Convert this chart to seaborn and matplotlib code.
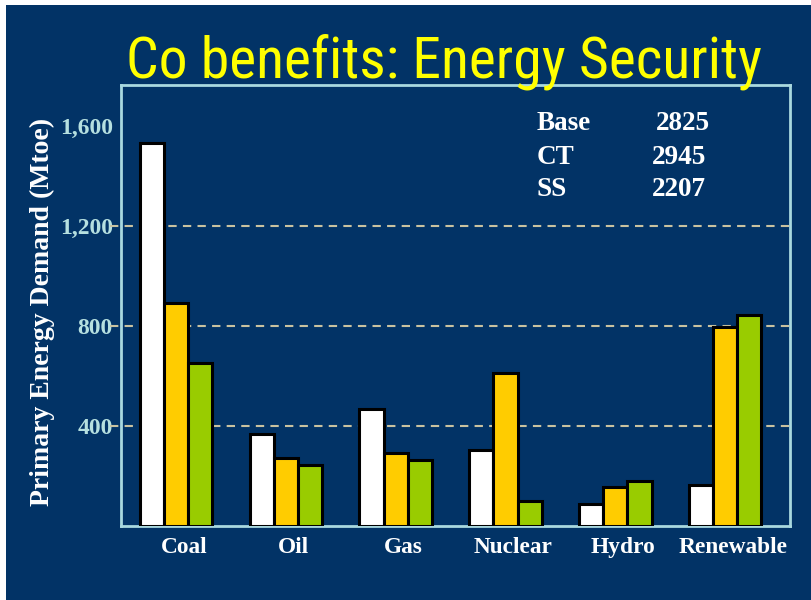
import matplotlib
matplotlib.use("Agg")
import matplotlib.pyplot as plt
import matplotlib.transforms as mtransforms
from matplotlib.patches import Rectangle
import seaborn as sns
import pandas as pd

categories = ["Coal", "Oil", "Gas", "Nuclear", "Hydro", "Renewable"]
scenarios = ["Base", "CT", "SS"]
base_vals = [1532, 368, 468, 304, 88, 164]
ct_vals = [892, 272, 292, 612, 156, 796]
ss_vals = [652, 244, 264, 100, 180, 844]
totals = ["2825", "2945", "2207"]
yticks = [400, 800, 1200, 1600]
ytick_labels = ["400", "800", "1,200", "1,600"]

rows = []
for s, vals in zip(scenarios, [base_vals, ct_vals, ss_vals]):
    for c, v in zip(categories, vals):
        rows.append({"Fuel": c, "Scenario": s, "Mtoe": v})
df = pd.DataFrame(rows)

NAVY = "#023366"
FRAME = "#a9d9df"
sns.set_theme(style="white")
plt.rcParams["font.family"] = ["Liberation Serif", "DejaVu Serif"]

fig = plt.figure(figsize=(8.12, 6.0), dpi=100, facecolor=NAVY)
# white slide margins (top and left)
fig.patches.append(Rectangle((0, 595 / 600), 1, 5 / 600, transform=fig.transFigure,
                             facecolor="white", edgecolor="none", zorder=10))
fig.patches.append(Rectangle((0, 0), 6 / 812, 1, transform=fig.transFigure,
                             facecolor="white", edgecolor="none", zorder=10))

ax = fig.add_axes([121 / 812, 74 / 600, 669 / 812, 441 / 600])
ax.set_facecolor(NAVY)
palette = {"Base": "#ffffff", "CT": "#ffcc00", "SS": "#99cc00"}
sns.barplot(data=df, x="Fuel", y="Mtoe", hue="Scenario", order=categories,
            hue_order=scenarios, palette=palette, width=0.66, edgecolor="black",
            linewidth=2.2, saturation=1, legend=False, ax=ax, zorder=3)

ax.set_xlim(-0.41, 5.59)
ax.set_ylim(0, 1764)
ax.set_axisbelow(True)
for y in [400, 800, 1200]:
    ax.plot([-0.016, 1.0], [y, y], transform=ax.get_yaxis_transform(), clip_on=False,
            color="#c9c2a0", linestyle=(0, (4, 3)), linewidth=1.5, zorder=1)

ax.set_yticks(yticks)
ax.set_yticklabels(ytick_labels, color="#b6e0e0", fontsize=17, fontweight="bold")
ax.tick_params(axis="y", length=0, pad=6)

ax.set_xticks(range(len(categories)))
ax.set_xticklabels(categories, color="white", fontsize=16.8, fontweight="bold")
ax.tick_params(axis="x", length=0, pad=8)
offset = mtransforms.ScaledTranslation(8 / 100, 0, fig.dpi_scale_trans)
for lbl in ax.get_xticklabels():
    lbl.set_transform(lbl.get_transform() + offset)
ax.set_xticks([i - 0.5 for i in range(len(categories) + 1)], minor=True)
ax.tick_params(axis="x", which="minor", length=8, color="#7fa9c0", width=1, direction="out")

ax.set_xlabel("")
ax.set_ylabel("")
fig.text(42 / 812, 1 - 311.5 / 600, "Primary Energy Demand (Mtoe)", color="white",
         fontsize=20, fontweight="bold", rotation=90, ha="center", va="center")

for sp in ax.spines.values():
    sp.set_visible(True)
    sp.set_color(FRAME)
    sp.set_linewidth(2)

fig.text(444 / 812, 1 - 78 / 600, "Co benefits: Energy Security", color="#ffff00",
         fontsize=41.5, ha="center", va="baseline",
         family=["Roboto Condensed", "DejaVu Sans Condensed", "Roboto", "DejaVu Sans"])

ys = [124, 157, 190]
num_x = [656, 652, 652]
for s, t, y, nx in zip(scenarios, totals, ys, num_x):
    fig.text(537 / 812, 1 - y / 600, s, color="white", fontsize=19.5, fontweight="bold",
             ha="left", va="center")
    fig.text(nx / 812, 1 - y / 600, t, color="white", fontsize=19.5, fontweight="bold",
             ha="left", va="center")

fig.savefig("out.png", dpi=100, facecolor=fig.get_facecolor())
